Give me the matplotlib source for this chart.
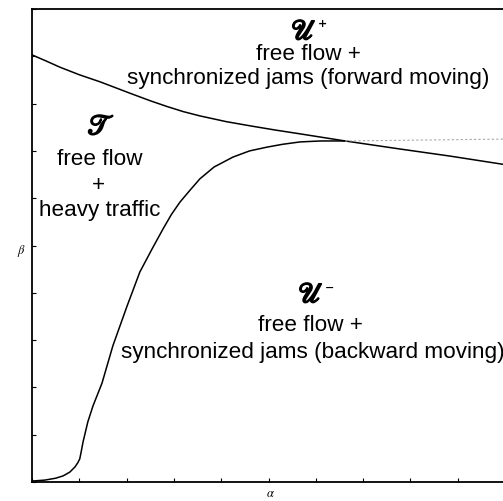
import matplotlib.pyplot as plt
import matplotlib.patheffects as pe
import numpy as np

plt.rcParams['mathtext.fontset'] = 'stix'

# upper boundary (U+ / T)
alpha_up = [0.0, 0.030, 0.059, 0.100, 0.144, 0.207, 0.250, 0.285, 0.320, 0.355, 0.410,
            0.461, 0.515, 0.567, 0.662, 0.778, 0.884, 1.0]
beta_up = [0.903, 0.890, 0.877, 0.861, 0.846, 0.822, 0.806, 0.794, 0.783, 0.774, 0.762,
           0.753, 0.744, 0.736, 0.721, 0.704, 0.689, 0.671]

# lower boundary (T / U-)
alpha_lo = [0.0, 0.027, 0.050, 0.066, 0.080, 0.091, 0.097, 0.101, 0.104, 0.108, 0.118,
            0.129, 0.148, 0.171, 0.201, 0.228, 0.254, 0.277, 0.295, 0.313, 0.335, 0.355,
            0.385, 0.425, 0.460, 0.497, 0.530, 0.567, 0.610, 0.662]
beta_lo = [0.002, 0.004, 0.008, 0.013, 0.021, 0.032, 0.041, 0.049, 0.064, 0.085, 0.127,
           0.161, 0.209, 0.288, 0.372, 0.444, 0.493, 0.535, 0.566, 0.592, 0.618, 0.641,
           0.666, 0.687, 0.700, 0.708, 0.714, 0.719, 0.721, 0.721]

# continuation of the lower boundary past the crossing (faint)
alpha_ext = [0.662, 1.0]
beta_ext = [0.721, 0.725]

fig = plt.figure(figsize=(5.03, 5.02), dpi=100)
ax = fig.add_axes([32/503, 19/502, 473/503, 473/502])

ax.plot(alpha_up, beta_up, color="black", lw=1.1)
ax.plot(alpha_lo, beta_lo, color="black", lw=1.1)
ax.plot(alpha_ext, beta_ext, color="0.65", lw=0.8, ls=(0, (2, 2)))

ax.set_xlim(0, 1)
ax.set_ylim(0, 1)
ax.set_xticks(np.arange(0, 1.01, 0.1))
ax.set_yticks(np.arange(0, 1.01, 0.1))
ax.tick_params(direction="in", length=3, width=0.8, labelbottom=False, labelleft=False)
for s in ax.spines.values():
    s.set_linewidth(1.3)

ax.text(0.505, -0.022, r"$\alpha$", fontsize=9, ha="center", va="center", transform=ax.transAxes)
ax.text(-0.022, 0.49, r"$\beta$", fontsize=9, ha="center", va="center", transform=ax.transAxes)

thick = [pe.withStroke(linewidth=1.3, foreground="black")]
txt = dict(family="Liberation Sans", fontsize=16.2, ha="center", va="center")
sym = dict(fontsize=20, ha="center", va="center", path_effects=thick)
sup = dict(family="DejaVu Sans", fontsize=8, weight="bold", ha="left", va="center")

# region names: script letter with a small sign at the upper right
u_plus = ax.text(0.575, 0.953, r"$\mathscr{U}$", **sym)
ax.annotate("+", xy=(1.0, 0.78), xycoords=u_plus, xytext=(1, 0),
            textcoords="offset points", **sup)
ax.text(0.584, 0.905, "free flow +", **txt)
ax.text(0.584, 0.856, "synchronized jams (forward moving)", **txt)

ax.text(0.146, 0.752, r"$\mathscr{T}$", **sym)
ax.text(0.144, 0.683, "free flow", **txt)
ax.text(0.140, 0.628, "+", **txt)
ax.text(0.144, 0.577, "heavy traffic", **txt)

u_minus = ax.text(0.590, 0.397, r"$\mathscr{U}$", **sym)
ax.annotate("\u2212", xy=(1.0, 0.78), xycoords=u_minus, xytext=(1, 0),
            textcoords="offset points", **sup)
ax.text(0.588, 0.334, "free flow +", **txt)
ax.text(0.593, 0.275, "synchronized jams (backward moving)", **txt)

plt.savefig("out.png", dpi=100)
